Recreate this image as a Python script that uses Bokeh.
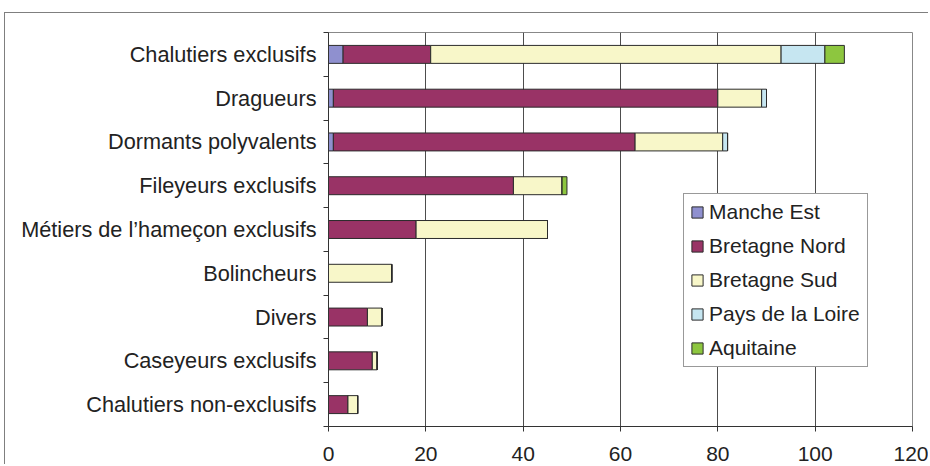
from bokeh.plotting import figure
from bokeh.models import Range1d, FixedTicker, ColumnDataSource, Legend, LegendItem
from bokeh.embed import file_html
from bokeh.resources import INLINE

categories = ["Chalutiers exclusifs", "Dragueurs", "Dormants polyvalents",
              "Fileyeurs exclusifs", "Métiers de l’hameçon exclusifs", "Bolincheurs",
              "Divers", "Caseyeurs exclusifs", "Chalutiers non-exclusifs"]
manche_est = [3, 1, 1, 0, 0, 0, 0, 0, 0]
bretagne_nord = [18, 79, 62, 38, 18, 0, 8, 9, 4]
bretagne_sud = [72, 9, 18, 10, 27, 13, 3, 1, 2]
pays_de_la_loire = [9, 1, 1, 0, 0, 0, 0, 0, 0]
aquitaine = [4, 0, 0, 1, 0, 0, 0, 0, 0]
series_names = ["Manche Est", "Bretagne Nord", "Bretagne Sud", "Pays de la Loire", "Aquitaine"]
x_ticks = [0, 20, 40, 60, 80, 100, 120]

colors = ["#8f90cf", "#993366", "#f8f7c9", "#c6e6f1", "#8dc63f"]
FONT = "Liberation Sans"
FS = "21px"

n = len(categories)
ypos = [n - 1 - i for i in range(n)]
keys = ["me", "bn", "bs", "pl", "aq"]
source = ColumnDataSource(dict(y=ypos, me=manche_est, bn=bretagne_nord, bs=bretagne_sud,
                               pl=pays_de_la_loire, aq=aquitaine))

p = figure(width=924, height=452, output_backend="svg", toolbar_location=None,
           x_range=Range1d(0, 120), y_range=Range1d(-0.5, n - 0.5),
           min_border_left=323, min_border_right=17, min_border_top=19, min_border_bottom=39)
p.styles = {"margin-left": "4px", "margin-top": "12px",
            "border-left": "1px solid #7f7f7f", "border-top": "1px solid #7f7f7f"}

renderers = p.hbar_stack(keys, y="y", height=0.41, source=source, fill_color=colors,
                         line_color="#2b2b2b", line_width=1)

# axes
p.xaxis.ticker = FixedTicker(ticks=x_ticks)
p.xaxis.major_tick_out = 5
p.xaxis.major_tick_in = 0
p.xaxis.minor_tick_out = 0
p.xaxis.minor_tick_in = 0
p.xaxis.axis_line_color = "#333333"
p.xaxis.major_tick_line_color = "#333333"
p.xaxis.major_label_text_font = FONT
p.xaxis.major_label_text_font_size = FS
p.xaxis.major_label_text_color = "#222222"
p.xaxis.major_label_standoff = 15

p.yaxis.ticker = FixedTicker(ticks=ypos, minor_ticks=[k - 0.5 for k in range(n + 1)])
p.yaxis.major_label_overrides = {y: c for y, c in zip(ypos, categories)}
p.yaxis.major_tick_out = 0
p.yaxis.major_tick_in = 0
p.yaxis.minor_tick_out = 5
p.yaxis.minor_tick_in = 0
p.yaxis.axis_line_color = "#333333"
p.yaxis.minor_tick_line_color = "#333333"
p.yaxis.major_label_text_font = FONT
p.yaxis.major_label_text_font_size = "21.7px"
p.yaxis.major_label_text_color = "#222222"
p.yaxis.major_label_standoff = 7

p.xgrid.ticker = FixedTicker(ticks=x_ticks)
p.xgrid.grid_line_color = "#4d4d4d"
p.ygrid.grid_line_color = None
p.outline_line_color = "#888888"

legend = Legend(items=[LegendItem(label=s, renderers=[r]) for s, r in zip(series_names, renderers)],
                location=(355, 59))
legend.label_text_font = FONT
legend.label_text_font_size = FS
legend.label_text_color = "#222222"
legend.glyph_width = 14
legend.glyph_height = 14
legend.label_height = 24
legend.label_width = 152
legend.spacing = 10
legend.padding = 6
legend.margin = 0
legend.label_standoff = 5
legend.border_line_color = "#333333"
legend.background_fill_alpha = 1
p.add_layout(legend, "center")

open("out.html", "w").write(file_html(p, INLINE))
